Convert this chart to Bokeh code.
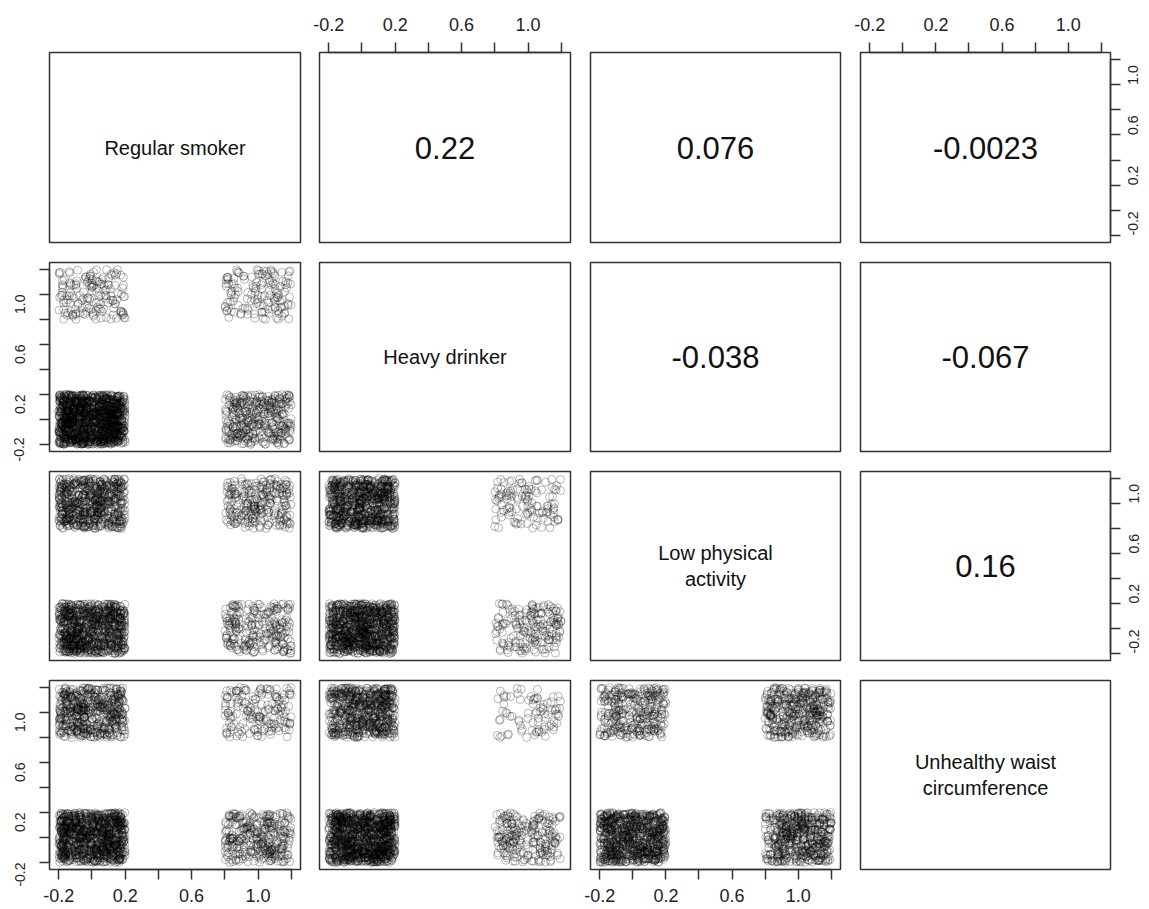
import math
import numpy as np
from bokeh.plotting import figure
from bokeh.layouts import column, row
from bokeh.models import ColumnDataSource, Range1d, LinearAxis, FixedTicker, PrintfTickFormatter
from bokeh.transform import jitter
from bokeh.core.properties import value
from bokeh.embed import file_html
from bokeh.resources import INLINE

# Binary risk factors (0 = no, 1 = yes)
variables = ["Regular smoker", "Heavy drinker", "Low physical\nactivity",
             "Unhealthy waist\ncircumference"]

# Pearson correlations printed in the upper triangle, keyed by (row, col)
cor_pairs = [(0, 1), (0, 2), (0, 3), (1, 2), (1, 3), (2, 3)]
cor_values = ["0.22", "0.076", "-0.0023", "-0.038", "-0.067", "0.16"]

# Respondent counts for the lower panels (row, col): x = variable[col], y = variable[row]
# cell order: (x=0, y=0), (x=1, y=0), (x=0, y=1), (x=1, y=1)
count_pairs = [(1, 0), (2, 0), (2, 1), (3, 0), (3, 1), (3, 2)]
count_tables = [
    [1343, 357, 157, 143],
    [858, 242, 642, 258],
    [921, 179, 779, 121],
    [974, 326, 526, 174],
    [1082, 218, 618, 82],
    [791, 509, 309, 391],
]
cell_x = [0, 1, 0, 1]
cell_y = [0, 0, 1, 1]

major_ticks = [-0.2, 0.2, 0.6, 1.0]
minor_ticks = [0.0, 0.4, 0.8, 1.2]

FONT = "Liberation Sans"
INK = "#333333"

# panel geometry (pixels)
col_left = [49, 9, 10, 10]
col_frame = [251, 251, 250, 250]
col_right = [10, 10, 10, 39]
row_top = [52, 10, 10, 10]
row_frame = [190, 189, 189, 189]
row_bottom = [10, 10, 10, 40]

top_axes = {(0, 1), (0, 3)}
bottom_axes = {(3, 0), (3, 2)}
left_axes = {(1, 0), (3, 0)}
right_axes = {(0, 3), (2, 3)}


def make_axis(side):
    ax = LinearAxis(ticker=FixedTicker(ticks=major_ticks, minor_ticks=minor_ticks),
                    formatter=PrintfTickFormatter(format="%.1f"),
                    bounds=(-0.2, 1.2))
    ax.axis_line_color = INK
    ax.axis_line_width = 1.5
    ax.major_tick_in = 0
    ax.major_tick_out = 10
    ax.minor_tick_in = 0
    ax.minor_tick_out = 10
    ax.major_tick_line_color = INK
    ax.major_tick_line_width = 1.5
    ax.minor_tick_line_color = INK
    ax.minor_tick_line_width = 1.5
    ax.major_label_text_font = FONT
    ax.major_label_text_color = "#222222"
    if side in ("above", "below"):
        ax.major_label_text_font_size = "18px"
        ax.major_label_standoff = 12 if side == "above" else 9
    else:
        ax.major_label_text_font_size = "14px"
        ax.major_label_orientation = math.pi / 2
        ax.major_label_standoff = 20 if side == "left" else 13
    return ax


rows = []
for r in range(4):
    figs = []
    for c in range(4):
        p = figure(
            width=col_left[c] + col_frame[c] + col_right[c],
            height=row_top[r] + row_frame[r] + row_bottom[r],
            x_range=Range1d(-0.256, 1.256), y_range=Range1d(-0.256, 1.256),
            x_axis_location=None, y_axis_location=None,
            tools="", toolbar_location=None, output_backend="svg",
            min_border_left=col_left[c], min_border_right=col_right[c],
            min_border_top=row_top[r], min_border_bottom=row_bottom[r],
        )
        p.xgrid.grid_line_color = None
        p.ygrid.grid_line_color = None
        p.outline_line_color = INK
        p.outline_line_width = 1.5
        p.background_fill_color = "white"
        p.border_fill_color = "white"

        if r == c:
            p.text(x=[0.5], y=[0.5], text=[variables[r]],
                   text_font=value(FONT), text_font_size="20px",
                   text_align="center", text_baseline="middle",
                   text_line_height=1.15, text_color="#111111")
        elif r < c:
            lbl = cor_values[cor_pairs.index((r, c))]
            p.text(x=[0.5], y=[0.5], text=[lbl],
                   text_font=value(FONT), text_font_size="31px",
                   text_align="center", text_baseline="middle",
                   text_color="#111111")
        else:
            counts = count_tables[count_pairs.index((r, c))]
            xs = np.repeat(cell_x, counts)
            ys = np.repeat(cell_y, counts)
            src = ColumnDataSource(dict(x=xs, y=ys))
            p.scatter(x=jitter("x", width=0.4, distribution="uniform"),
                      y=jitter("y", width=0.4, distribution="uniform"),
                      source=src, marker="circle", size=8,
                      fill_color=None, line_color="black",
                      line_alpha=0.28, line_width=1)

        if (r, c) in top_axes:
            p.add_layout(make_axis("above"), "above")
        if (r, c) in bottom_axes:
            p.add_layout(make_axis("below"), "below")
        if (r, c) in left_axes:
            p.add_layout(make_axis("left"), "left")
        if (r, c) in right_axes:
            p.add_layout(make_axis("right"), "right")
        figs.append(p)
    rows.append(row(*figs))

layout = column(*rows)
open("out.html", "w").write(file_html(layout, INLINE))
